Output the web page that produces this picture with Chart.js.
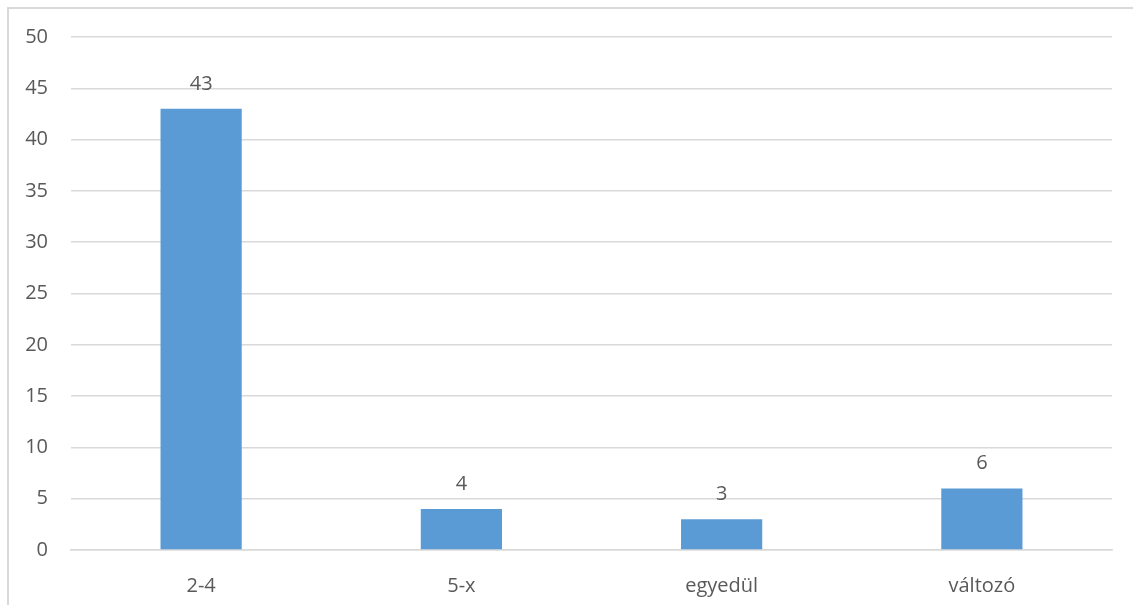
<!DOCTYPE html>
<html>
<head>
<meta charset="utf-8">
<script src="https://cdn.jsdelivr.net/npm/chart.js@4/dist/chart.umd.min.js"></script>
<style>
    html, body { margin: 0; padding: 0; background: #fff; }
    #wrap { position: relative; width: 1133px; height: 605px; }
    #frame { position: absolute; left: 7px; top: 7px; right: -2px; bottom: -2px; border: 2px solid #d9d9d9; border-right: none; border-bottom: none; pointer-events: none; }
    canvas { position: absolute; left: 0; top: 0; }
</style>
</head>
<body>
<div id="wrap">
    <canvas id="chart" width="1133" height="605"></canvas>
    <div id="frame"></div>
</div>
<script>
const categories = ['2-4', '5-x', 'egyedül', 'változó'];
const values = [43, 4, 3, 6];
const yTicks = [0, 5, 10, 15, 20, 25, 30, 35, 40, 45, 50];

const textColor = '#595959';
const gridColor = '#d9d9d9';
const fontFamily = '"Open Sans", sans-serif';

// value labels above each bar
const valueLabels = {
    id: 'valueLabels',
    afterDatasetsDraw(chart) {
        const ctx = chart.ctx;
        const meta = chart.getDatasetMeta(0);
        ctx.save();
        ctx.font = '20px ' + fontFamily;
        ctx.fillStyle = textColor;
        ctx.textAlign = 'center';
        ctx.textBaseline = 'middle';
        meta.data.forEach((bar, i) => {
            ctx.fillText(values[i], bar.x, bar.y - 25);
        });
        ctx.restore();
    }
};

new Chart(document.getElementById('chart').getContext('2d'), {
    type: 'bar',
    data: {
        labels: categories,
        datasets: [{
            data: values,
            backgroundColor: '#5b9bd5',
            borderWidth: 0,
            categoryPercentage: 1,
            barPercentage: 0.312
        }]
    },
    options: {
        responsive: false,
        animation: false,
        layout: { padding: { top: 37, right: 21, left: 0, bottom: 0 } },
        plugins: { legend: { display: false }, tooltip: { enabled: false } },
        scales: {
            x: {
                grid: { display: false, drawTicks: false },
                border: { color: gridColor, width: 1.5 },
                ticks: { color: textColor, font: { family: fontFamily, size: 20 }, padding: 24 },
                afterFit: (scale) => { scale.height = 55; }
            },
            y: {
                min: 0,
                max: 50,
                afterBuildTicks: (scale) => { scale.ticks = yTicks.map(v => ({ value: v })); },
                grid: { color: gridColor, lineWidth: 1.5, drawTicks: false },
                border: { display: false },
                ticks: { color: textColor, font: { family: fontFamily, size: 20 }, padding: 23 },
                afterFit: (scale) => { scale.width = 71; }
            }
        }
    },
    plugins: [valueLabels]
});
</script>
</body>
</html>
